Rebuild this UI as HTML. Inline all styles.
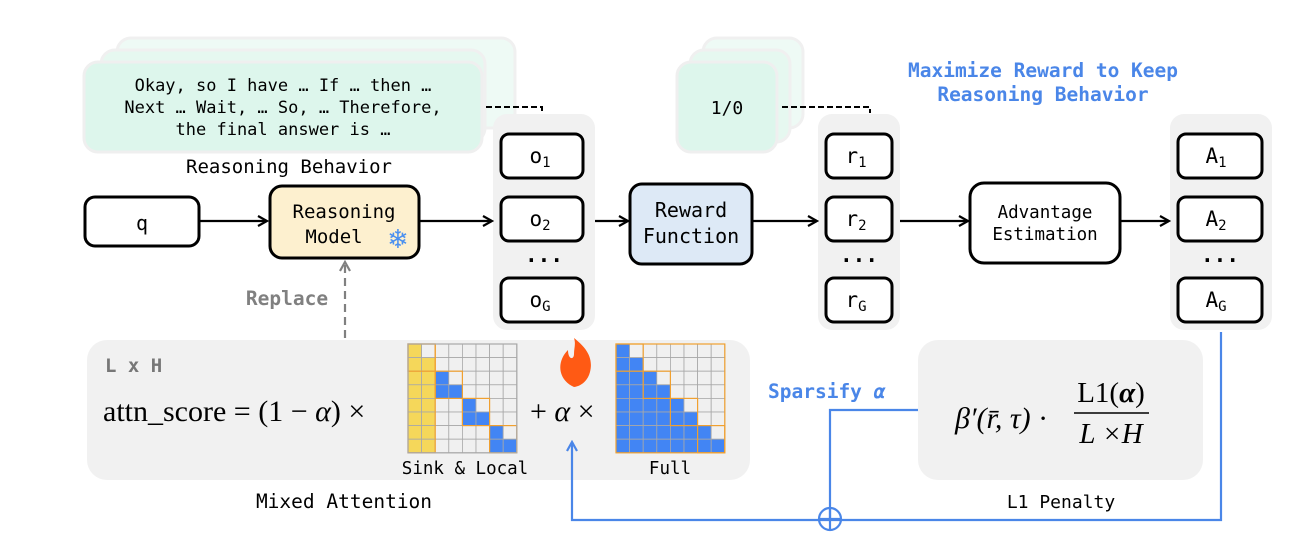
<!DOCTYPE html>
<html><head><meta charset="utf-8"><style>
body{margin:0;background:#fff;}
svg{display:block;}
.m{font-family:"DejaVu Sans Mono","Liberation Mono",monospace;}
</style></head><body>
<svg id="s" width="1314" height="540" viewBox="0 0 1314 540" xmlns="http://www.w3.org/2000/svg">
<defs>
<marker id="ab" markerWidth="12" markerHeight="12" refX="10" refY="6" orient="auto" markerUnits="userSpaceOnUse"><path d="M1,1 L10,6 L1,11" fill="none" stroke="#000" stroke-width="2.2"/></marker>
<marker id="ag" markerWidth="12" markerHeight="12" refX="10" refY="6" orient="auto" markerUnits="userSpaceOnUse"><path d="M1,1 L10,6 L1,11" fill="none" stroke="#808080" stroke-width="2.2"/></marker>
<marker id="abl" markerWidth="12" markerHeight="12" refX="10" refY="6" orient="auto" markerUnits="userSpaceOnUse"><path d="M1,1 L10,6 L1,11" fill="none" stroke="#4a86e8" stroke-width="2.2"/></marker>
</defs>
<rect x="117" y="38" width="398" height="90" rx="14" fill="#eefaf5" stroke="#f0f0f0" stroke-width="3"/>
<rect x="101" y="50" width="384" height="92" rx="14" fill="#e6f8f0" stroke="#f0f0f0" stroke-width="3"/>
<rect x="84" y="62" width="398" height="90" rx="14" fill="#ddf6ec" stroke="#efefef" stroke-width="3"/>
<g class="m" font-size="17" text-anchor="middle" fill="#000">
<text x="283" y="91">Okay, so I have … If … then …</text>
<text x="283" y="113">Next … Wait, … So, … Therefore,</text>
<text x="283" y="135">the final answer is …</text>
</g>
<path d="M486,107 H542 V113" fill="none" stroke="#000" stroke-width="2" stroke-dasharray="6,3"/>
<text x="289" y="173" class="m" font-size="19" text-anchor="middle">Reasoning Behavior</text>
<rect x="703" y="38" width="100" height="90" rx="14" fill="#eefaf5" stroke="#f0f0f0" stroke-width="3"/>
<rect x="690" y="50" width="100" height="92" rx="14" fill="#e6f8f0" stroke="#f0f0f0" stroke-width="3"/>
<rect x="677" y="62" width="100" height="90" rx="14" fill="#ddf6ec" stroke="#efefef" stroke-width="3"/>
<text x="727" y="114" class="m" font-size="18" text-anchor="middle">1/0</text>
<path d="M782,107 H870 V113" fill="none" stroke="#000" stroke-width="2" stroke-dasharray="6,3"/>
<g class="m" font-size="19.5" font-weight="bold" fill="#4a86e8" text-anchor="middle">
<text x="1043" y="77">Maximize Reward to Keep</text>
<text x="1043" y="101">Reasoning Behavior</text>
</g>
<rect x="493" y="114" width="102" height="216" rx="14" fill="#f1f1f1"/>
<rect x="818" y="114" width="82" height="216" rx="14" fill="#f1f1f1"/>
<rect x="1170" y="114" width="102" height="216" rx="14" fill="#f1f1f1"/>
<rect x="85" y="197" width="114" height="49" rx="10" fill="#fff" stroke="#000" stroke-width="3"/>
<text x="142" y="230" class="m" font-size="20" text-anchor="middle">q</text>
<rect x="270" y="186" width="149" height="72" rx="12" fill="#fdf0cf" stroke="#000" stroke-width="3"/>
<text x="344" y="218" class="m" font-size="19" text-anchor="middle">Reasoning</text>
<text x="334" y="243" class="m" font-size="19" text-anchor="middle">Model</text>
<text x="398" y="248" font-size="26" fill="#4a90f0" text-anchor="middle" font-family="DejaVu Sans">❄</text>
<rect x="630" y="184" width="122" height="80" rx="12" fill="#dde9f6" stroke="#000" stroke-width="3"/>
<text x="691" y="217" class="m" font-size="20" text-anchor="middle">Reward</text>
<text x="691" y="243" class="m" font-size="20" text-anchor="middle">Function</text>
<rect x="970" y="183" width="150" height="80" rx="14" fill="#fff" stroke="#000" stroke-width="3"/>
<text x="1045" y="218" class="m" font-size="17.5" text-anchor="middle">Advantage</text>
<text x="1045" y="240" class="m" font-size="17.5" text-anchor="middle">Estimation</text>
<g class="m" font-size="21" text-anchor="middle">
<rect x="501" y="134" width="82" height="44" rx="8" fill="#fff" stroke="#000" stroke-width="3"/>
<text x="540" y="163">o<tspan font-size="14" dy="4">1</tspan></text>
<rect x="501" y="197" width="82" height="44" rx="8" fill="#fff" stroke="#000" stroke-width="3"/>
<text x="540" y="226">o<tspan font-size="14" dy="4">2</tspan></text>
<text x="544" y="262" font-weight="bold">...</text>
<rect x="501" y="278" width="82" height="44" rx="8" fill="#fff" stroke="#000" stroke-width="3"/>
<text x="540" y="307">o<tspan font-size="14" dy="4">G</tspan></text>
<rect x="826" y="134" width="66" height="44" rx="8" fill="#fff" stroke="#000" stroke-width="3"/>
<text x="856" y="163">r<tspan font-size="14" dy="4">1</tspan></text>
<rect x="826" y="197" width="66" height="44" rx="8" fill="#fff" stroke="#000" stroke-width="3"/>
<text x="856" y="226">r<tspan font-size="14" dy="4">2</tspan></text>
<text x="859" y="262" font-weight="bold">...</text>
<rect x="826" y="278" width="66" height="44" rx="8" fill="#fff" stroke="#000" stroke-width="3"/>
<text x="856" y="307">r<tspan font-size="14" dy="4">G</tspan></text>
<rect x="1178" y="134" width="84" height="44" rx="8" fill="#fff" stroke="#000" stroke-width="3"/>
<text x="1216" y="163">A<tspan font-size="14" dy="4">1</tspan></text>
<rect x="1178" y="197" width="84" height="44" rx="8" fill="#fff" stroke="#000" stroke-width="3"/>
<text x="1216" y="226">A<tspan font-size="14" dy="4">2</tspan></text>
<text x="1220" y="262" font-weight="bold">...</text>
<rect x="1178" y="278" width="84" height="44" rx="8" fill="#fff" stroke="#000" stroke-width="3"/>
<text x="1216" y="307">A<tspan font-size="14" dy="4">G</tspan></text>
</g>
<g stroke="#000" stroke-width="2.2" fill="none">
<line x1="200" y1="221" x2="267" y2="221" marker-end="url(#ab)"/>
<line x1="420" y1="221" x2="492" y2="221" marker-end="url(#ab)"/>
<line x1="595" y1="221" x2="628" y2="221" marker-end="url(#ab)"/>
<line x1="753" y1="221" x2="817" y2="221" marker-end="url(#ab)"/>
<line x1="900" y1="221" x2="968" y2="221" marker-end="url(#ab)"/>
<line x1="1121" y1="221" x2="1169" y2="221" marker-end="url(#ab)"/>
</g>
<line x1="345" y1="338" x2="345" y2="262" stroke="#808080" stroke-width="2.2" stroke-dasharray="8,5" marker-end="url(#ag)"/>
<text x="287" y="305" class="m" font-size="19.5" font-weight="bold" fill="#808080" text-anchor="middle">Replace</text>
<rect x="87" y="340" width="663" height="140" rx="20" fill="#f1f1f1"/>
<rect x="918" y="340" width="285" height="140" rx="20" fill="#f1f1f1"/>
<text x="105" y="372" class="m" font-size="19" font-weight="bold" fill="#777">L x H</text>
<text x="103" y="421" font-family="Liberation Serif, serif" font-size="30">attn_score = (1 − <tspan font-style="italic">α</tspan>) ×</text>
<text x="530" y="421" font-family="Liberation Serif, serif" font-size="30">+ <tspan font-style="italic">α</tspan> ×</text>
<path d="M574,387 C558,380 556,362 568,350 C568,360 574,360 574,354 C574,348 576,344 574,338 C584,346 594,356 590,372 C588,380 582,386 574,387 Z" fill="#ff5a14"/>
<g id="mats"></g>
<text x="465" y="474" class="m" font-size="17.5" text-anchor="middle">Sink &amp; Local</text>
<text x="670" y="474" class="m" font-size="17.5" text-anchor="middle">Full</text>
<text x="344" y="508" class="m" font-size="19.5" text-anchor="middle">Mixed Attention</text>
<text x="1061" y="508" class="m" font-size="18" text-anchor="middle">L1 Penalty</text>
<text x="955" y="428" font-family="Liberation Serif, serif" font-size="30" font-style="italic">β′(r̄, τ) <tspan font-style="normal">·</tspan></text>
<text x="1111" y="402" font-family="Liberation Serif, serif" font-size="29" text-anchor="middle">L1(<tspan font-weight="bold" font-style="italic">α</tspan>)</text>
<line x1="1074" y1="413" x2="1149" y2="413" stroke="#000" stroke-width="1.5"/>
<text x="1111" y="443" font-family="Liberation Serif, serif" font-size="29" font-style="italic" text-anchor="middle">L ×H</text>
<text x="768" y="398" class="m" font-size="19.5" font-weight="bold" fill="#4a86e8">Sparsify <tspan font-style="italic">α</tspan></text>
<g stroke="#4a86e8" stroke-width="2.2" fill="none">
<path d="M1221,332 V520 H572 V442" marker-end="url(#abl)"/>
<path d="M918,410 H830 V520"/>
<circle cx="830" cy="519" r="11"/>
<line x1="819" y1="519" x2="841" y2="519"/>
<line x1="830" y1="508" x2="830" y2="530"/>
</g>
</svg>
<script>
var g=document.getElementById('mats'),ns='http://www.w3.org/2000/svg';
function r(x,y,w,h,f,s,sw){var e=document.createElementNS(ns,'rect');e.setAttribute('x',x);e.setAttribute('y',y);e.setAttribute('width',w);e.setAttribute('height',h);e.setAttribute('fill',f);e.setAttribute('stroke',s);e.setAttribute('stroke-width',sw);g.appendChild(e);}
var c=13.6;
function mat(x0,y0,full){
 for(var i=0;i<8;i++)for(var j=0;j<8;j++){
  var f='#f0f0f0';
  if(full){ if(i>=j) f='#4285f4';}
  else{ if(j<2 && !(i==0&&j==1)) f='#f5d75a';
        else if(j>=2 && Math.floor(i/2)==Math.floor(j/2) && i>=j) f='#4285f4';}
  r(x0+j*c,y0+i*c,c,c,f,'#a8a8a8',0.8);
 }
 for(var b=0;b<4;b++) r(x0+b*2*c,y0+b*2*c,2*c,2*c,'none','#f0a030',1.2);
 if(!full) r(x0,y0,2*c,8*c,'none','#f0a030',1.2);
 r(x0,y0,8*c,8*c,'none',full?'#f0a030':'#a8a8a8',1.2);
}
mat(408,344,false);mat(616,344,true);
</script>
</body></html>
